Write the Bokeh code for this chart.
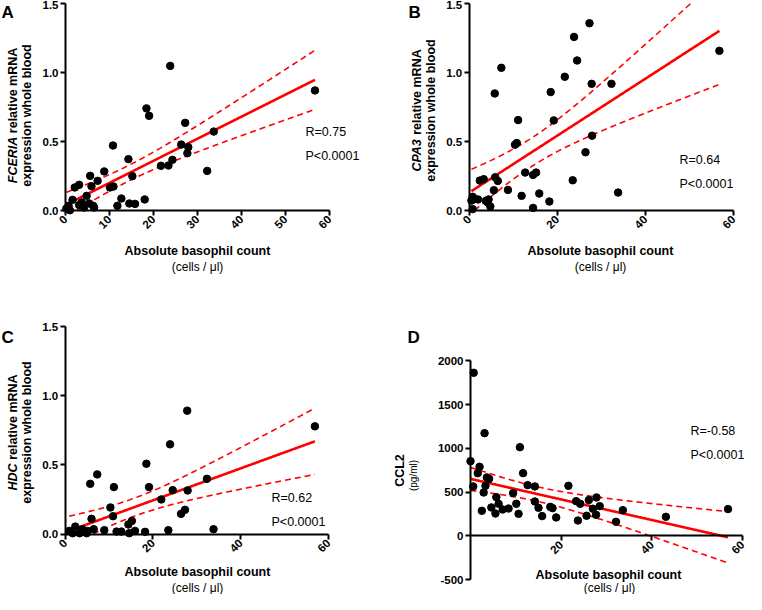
import math
import numpy as np
from bokeh.plotting import figure
from bokeh.models import Range1d, Label, FixedTicker, NumeralTickFormatter, ColumnDataSource
from bokeh.layouts import column, row
from bokeh.embed import file_html
from bokeh.resources import INLINE

# ---------------- data ----------------
basophil_a = [23.8, 56.7, 18.4, 19.0, 27.2, 33.7, 10.8, 26.3, 27.9, 27.7, 24.3, 14.3, 21.7, 23.4,
              32.2, 8.8, 15.2, 5.6, 7.3, 3.1, 2.1, 5.9, 10.1, 10.9, 1.6, 4.8, 3.7, 3.1, 5.4, 6.3,
              12.7, 11.8, 14.5, 15.8, 18.0, 0.7, 1.0, 0.2, 4.2, 6.5]
fceria = [1.048, 0.87, 0.74, 0.686, 0.635, 0.572, 0.471, 0.478, 0.459, 0.415, 0.367, 0.372, 0.324, 0.326,
          0.287, 0.283, 0.249, 0.251, 0.215, 0.186, 0.167, 0.176, 0.167, 0.174, 0.077, 0.106, 0.058, 0.039, 0.051, 0.034,
          0.087, 0.034, 0.051, 0.048, 0.08, 0.034, 0.002, 0.014, 0.022, 0.022]

basophil_b = [27.3, 23.8, 24.5, 56.8, 7.3, 21.7, 27.8, 32.3, 5.8, 18.5, 11.1, 19.2, 10.8, 10.4,
              27.9, 26.4, 5.9, 6.5, 2.4, 3.3, 12.7, 14.5, 15.2, 23.5, 8.8, 5.6, 11.9, 15.9, 18.2,
              33.8, 0.8, 1.2, 2.0, 0.5, 3.8, 4.4, 4.2, 4.8, 14.5, 0.8]
cpa3 = [1.357, 1.258, 1.087, 1.157, 1.034, 0.969, 0.918, 0.918, 0.848, 0.858, 0.655, 0.653, 0.489, 0.477,
        0.542, 0.422, 0.241, 0.214, 0.217, 0.227, 0.275, 0.258, 0.275, 0.219, 0.149, 0.147, 0.106, 0.123, 0.065,
        0.130, 0.099, 0.082, 0.080, 0.072, 0.070, 0.080, 0.058, 0.029, 0.019, 0.010]

basophil_c = [27.8, 56.9, 23.9, 18.5, 7.3, 5.7, 19.1, 11.1, 32.3, 24.5, 27.9, 21.9, 10.3, 27.3,
              26.4, 10.9, 6.0, 15.2, 14.4, 33.8, 23.5, 6.5, 8.9, 2.3, 0.9, 3.9, 5.1, 3.3, 11.7,
              12.8, 14.6, 15.9, 18.2, 4.9, 1.7]
hdc = [0.892, 0.779, 0.649, 0.509, 0.432, 0.364, 0.340, 0.340, 0.400, 0.318, 0.316, 0.251, 0.193, 0.176,
       0.147, 0.130, 0.111, 0.096, 0.070, 0.036, 0.029, 0.036, 0.029, 0.055, 0.024, 0.036, 0.024, 0.007, 0.019,
       0.019, 0.007, 0.024, 0.017, 0.007, 0.007]

basophil_d = [0.7, 3.1, 10.9, 0.0, 2.0, 1.6, 3.6, 4.1, 11.6, 3.3, 0.6, 12.6, 14.2, 21.6, 2.9, 9.4,
              5.7, 27.8, 26.1, 23.3, 14.2, 24.2, 6.2, 10.1, 17.6, 18.1, 15.0, 4.6, 28.5, 27.0, 7.1,
              8.4, 2.5, 33.6, 56.8, 5.5, 10.6, 27.7, 25.6, 15.8, 18.9, 43.1, 23.7, 32.1]
ccl2 = [1863, 1173, 1013, 853, 789, 716, 667, 651, 716, 571, 564, 579, 564, 571, 495, 488,
        442, 438, 408, 396, 392, 366, 366, 366, 331, 316, 320, 324, 339, 309, 301,
        312, 286, 293, 305, 255, 251, 240, 229, 225, 210, 217, 175, 160]

x_ticks_a = [0, 10, 20, 30, 40, 50, 60]
x_ticks_bc = [0, 20, 40, 60]
x_ticks_d = [20, 40, 60]
y_ticks_mrna = [0.0, 0.5, 1.0, 1.5]
y_ticks_ccl2 = [-500, 0, 500, 1000, 1500, 2000]
r_labels = ["R=0.75", "R=0.64", "R=0.62", "R=-0.58"]
p_label = "P<0.0001"
letters = ["A", "B", "C", "D"]
genes = ["FCERIA", "CPA3", "HDC"]
x_title = "Absolute basophil count"
x_unit = "(cells / \u03bcl)"
y_rest1 = "relative mRNA"
y_line2 = "expression whole blood"

FONT = "Liberation Sans"
RED = "#ff0000"
T_CRIT = 2.01

# approximate em widths (Arial bold metrics) for laying out mixed-style titles
GENE_EM = {"FCERIA": 3.72, "CPA3": 2.67, "HDC": 2.17}
SPACE_EM = 0.278
REST_EM = 6.827


class Map:
    """page-pixel <-> data mapping for one panel; the frame fills the whole figure"""
    def __init__(self, ox, oy, w, h, px0, px60, py_lo, py_hi, ylo, yhi):
        self.ox, self.oy, self.w, self.h = ox, oy, w, h
        self.px0 = px0
        self.kx = (px60 - px0) / 60.0
        self.py_lo, self.ylo = py_lo, ylo
        self.ky = (py_lo - py_hi) / float(yhi - ylo)

    def X(self, px):
        return (px - self.px0) / self.kx

    def Y(self, py):
        return self.ylo + (self.py_lo - py) / self.ky


def make_fig(m):
    p = figure(width=m.w, height=m.h, title=None,
               x_range=Range1d(m.X(m.ox), m.X(m.ox + m.w)),
               y_range=Range1d(m.Y(m.oy + m.h), m.Y(m.oy)),
               output_backend="svg", toolbar_location=None,
               min_border_left=0, min_border_right=0, min_border_top=0, min_border_bottom=0)
    p.outline_line_color = None
    p.xgrid.visible = False
    p.ygrid.visible = False
    p.background_fill_color = "white"
    p.border_fill_color = "white"
    p.xaxis.fixed_location = 0
    p.yaxis.fixed_location = 0
    for ax in (p.xaxis[0], p.yaxis[0]):
        ax.axis_line_width = 2
        ax.axis_line_color = "black"
        ax.major_tick_line_width = 2
        ax.major_tick_out = 5
        ax.major_tick_in = 0
        ax.minor_tick_out = 0
        ax.minor_tick_in = 0
        ax.major_label_text_font = FONT
        ax.major_label_text_font_style = "bold"
        ax.major_label_text_font_size = "11.5px"
        ax.major_label_text_color = "black"
        ax.major_label_standoff = 2
    p.xaxis.major_label_orientation = math.pi / 4
    p.xaxis.bounds = (0, 60)
    return p


def lab(p, m, px, py, text, size, style="normal", angle=0.0, align="center", baseline="middle"):
    p.add_layout(Label(x=m.X(px), y=m.Y(py), text=text, text_font=FONT,
                       text_font_size=f"{size}px", text_font_style=style, angle=angle,
                       text_align=align, text_baseline=baseline, text_color="black"))


def regression(p, x, y, lo, hi):
    x = np.asarray(x, float)
    y = np.asarray(y, float)
    n = len(x)
    slope, icpt = np.polyfit(x, y, 1)
    xs = np.linspace(x.min(), x.max(), 300)
    yh = icpt + slope * xs
    resid = y - (icpt + slope * x)
    s = math.sqrt(float(np.sum(resid ** 2)) / (n - 2))
    sxx = float(np.sum((x - x.mean()) ** 2))
    half = T_CRIT * s * np.sqrt(1.0 / n + (xs - x.mean()) ** 2 / sxx)
    up = yh + half
    dn = yh - half
    up[(up < lo) | (up > hi)] = np.nan
    dn[(dn < lo) | (dn > hi)] = np.nan
    src = ColumnDataSource(dict(x=xs, y=yh, up=up, dn=dn))
    p.line("x", "up", source=src, line_color=RED, line_width=1.6, line_dash="6 4")
    p.line("x", "dn", source=src, line_color=RED, line_width=1.6, line_dash="6 4")
    p.line("x", "y", source=src, line_color=RED, line_width=2.6)


def mrna_panel(m, x, y, gene, letter, rtxt, rpos, xticks, ytitle_pos, xtitle_pos):
    p = make_fig(m)
    p.yaxis.bounds = (0, 1.5)
    p.xaxis.ticker = FixedTicker(ticks=xticks, minor_ticks=[])
    p.yaxis.ticker = FixedTicker(ticks=y_ticks_mrna, minor_ticks=[])
    p.yaxis.formatter = NumeralTickFormatter(format="0.0")
    regression(p, x, y, 0.0, 1.5)
    p.scatter(x, y, size=7.5, color="black")
    (lx, ly), ltxt = letter
    lab(p, m, lx, ly, ltxt, 17, "bold", align="left", baseline="alphabetic")
    (c1x, c2x, cy) = ytitle_pos
    fs = 12.5
    total = (GENE_EM[gene] + SPACE_EM + REST_EM) * fs
    start = cy + total / 2.0
    lab(p, m, c1x, start, gene, fs, "bold italic", angle=math.pi / 2, align="left")
    lab(p, m, c1x, start - (GENE_EM[gene] + SPACE_EM) * fs, y_rest1, fs, "bold",
        angle=math.pi / 2, align="left")
    lab(p, m, c2x, cy, y_line2, fs, "bold", angle=math.pi / 2)
    tx, ty1, ty2 = xtitle_pos
    lab(p, m, tx, ty1, x_title, 12.5, "bold")
    lab(p, m, tx, ty2, x_unit, 12)
    rx, ry1, ry2 = rpos
    lab(p, m, rx, ry1, rtxt, 12.5, align="left")
    lab(p, m, rx, ry2, p_label, 12.5, align="left")
    return p


# ---------------- panels ----------------
mA = Map(8, 8, 390, 282, 73, 337, 218, 11, 0.0, 1.5)
mB = Map(398, 8, 356, 282, 476.7, 741, 218, 11, 0.0, 1.5)
mC = Map(8, 290, 390, 312, 72.7, 336, 541.7, 334, 0.0, 1.5)
mD = Map(398, 290, 356, 312, 478, 750, 543.3, 368.3, 0.0, 2000.0)

pA = mrna_panel(mA, basophil_a, fceria, genes[0], ((9, 20), letters[0]), r_labels[0],
                (313, 139, 163), x_ticks_a, (20, 34, 123), (205, 258, 274))
pB = mrna_panel(mB, basophil_b, cpa3, genes[1], ((416, 20), letters[1]), r_labels[1],
                (687, 167, 191), x_ticks_bc, (424, 438, 118), (608, 258, 274))
pC = mrna_panel(mC, basophil_c, hdc, genes[2], ((9, 345), letters[2]), r_labels[2],
                (279, 505, 529), x_ticks_bc, (20, 34, 440), (205, 579, 595))

# panel D
pD = make_fig(mD)
pD.yaxis.bounds = (-500, 2000)
pD.xaxis.ticker = FixedTicker(ticks=x_ticks_d, minor_ticks=[])
pD.yaxis.ticker = FixedTicker(ticks=y_ticks_ccl2, minor_ticks=[])
pD.yaxis.formatter = NumeralTickFormatter(format="0")
regression(pD, basophil_d, ccl2, -500.0, 2000.0)
pD.scatter(basophil_d, ccl2, size=7.5, color="black")
lab(pD, mD, 415, 345, letters[3], 17, "bold", align="left", baseline="alphabetic")
lab(pD, mD, 407, 478, "CCL2", 12.5, "bold", angle=math.pi / 2)
lab(pD, mD, 421, 483, "(pg/ml)", 10, angle=math.pi / 2)
lab(pD, mD, 616, 582, x_title, 12.5, "bold")
lab(pD, mD, 617, 595, x_unit, 12)
lab(pD, mD, 698, 438, r_labels[3], 12.5, align="left")
lab(pD, mD, 698, 462, p_label, 12.5, align="left")

layout = column(row(pA, pB), row(pC, pD))
open("out.html", "w").write(file_html(layout, INLINE))
